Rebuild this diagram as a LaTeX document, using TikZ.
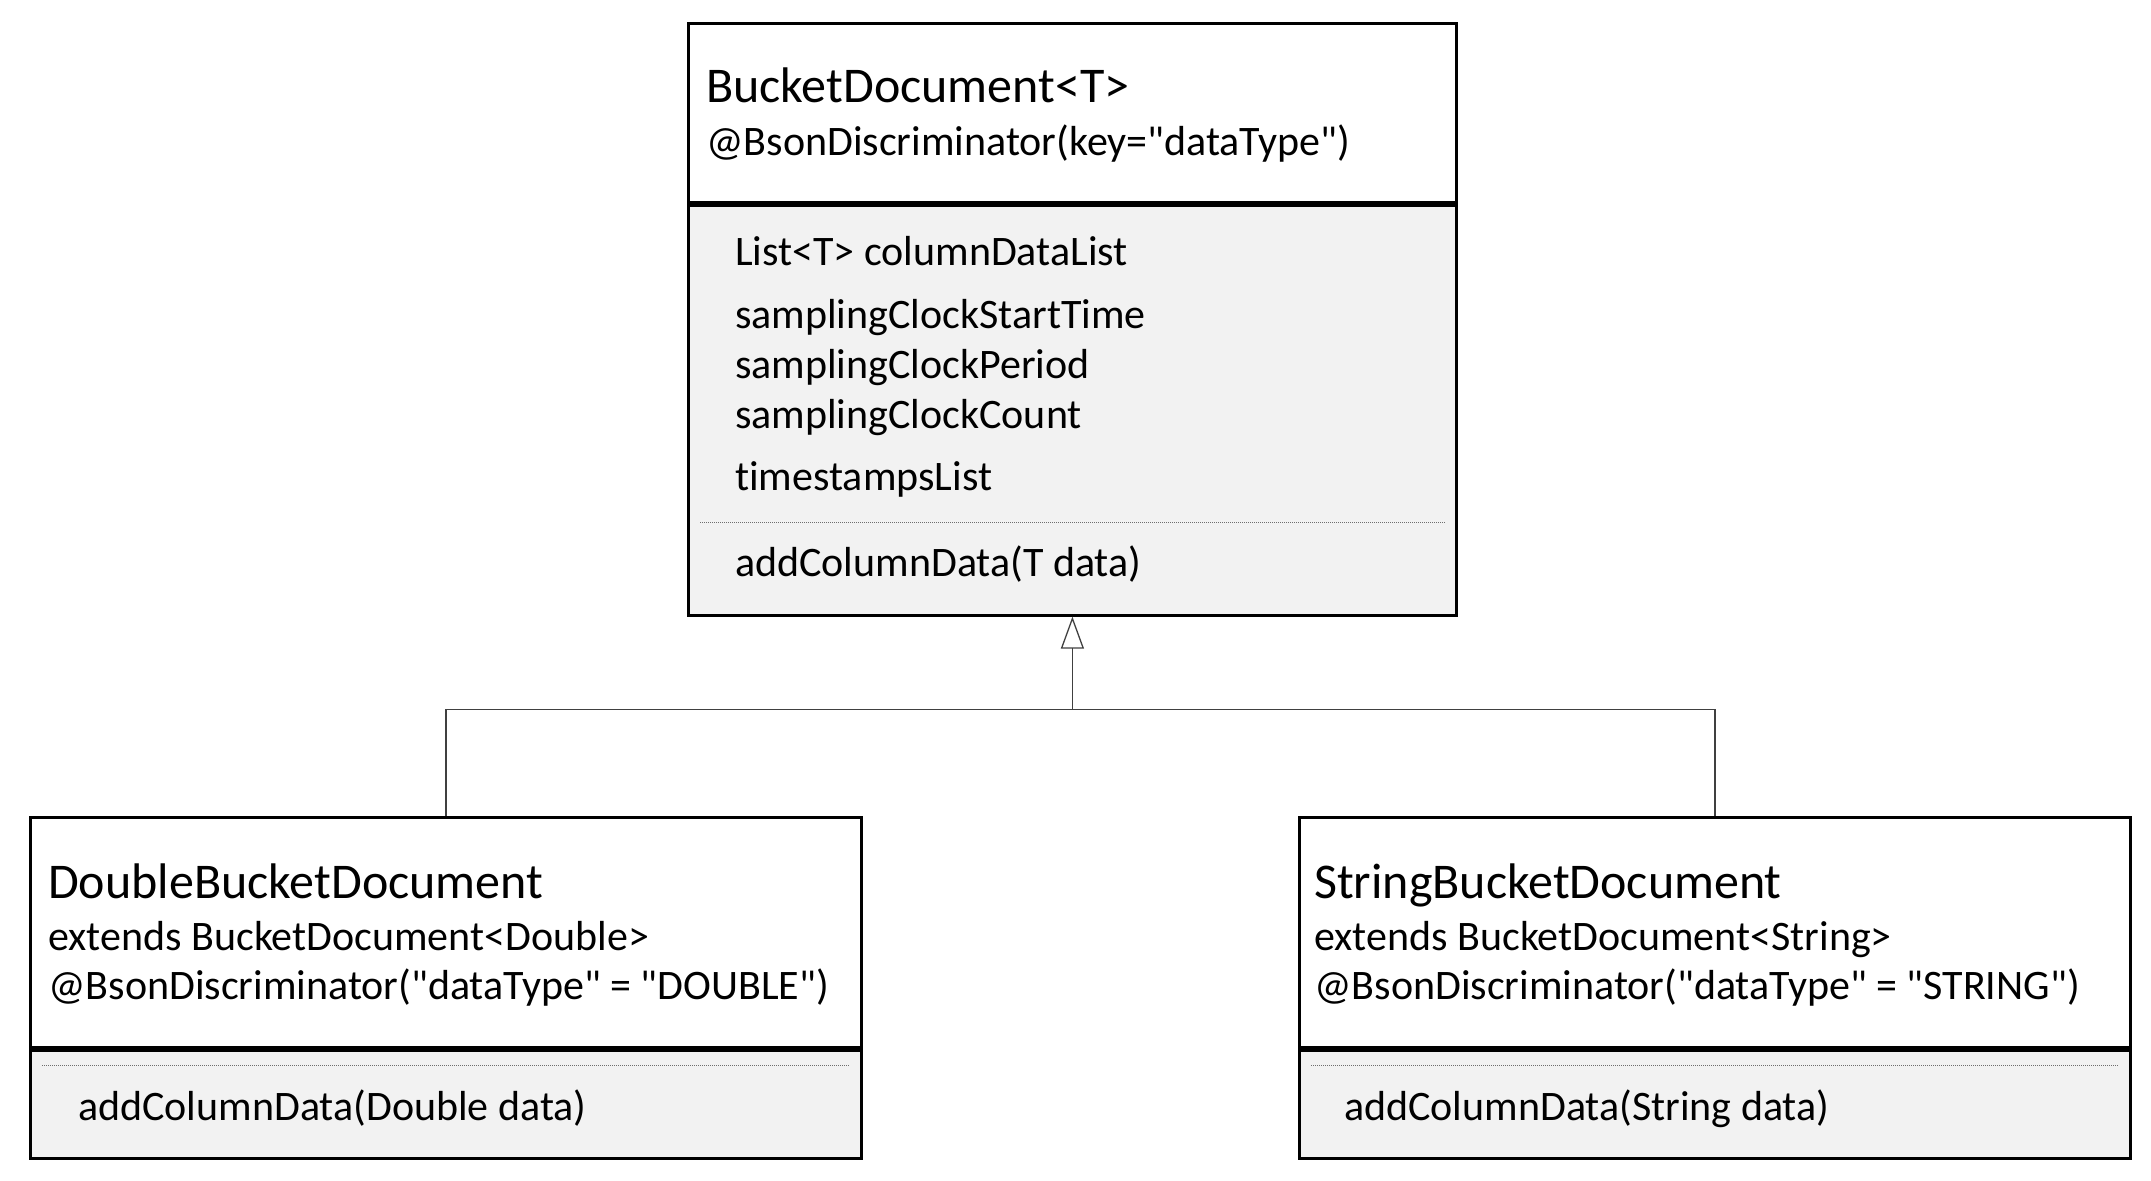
\documentclass[tikz,border=0pt]{standalone}
\usepackage{fontspec}
\newfontfamily\umlfont{Carlito}[Ligatures=NoCommon]
\usetikzlibrary{arrows.meta, positioning, calc}
\definecolor{compgray}{HTML}{F2F2F2}
\definecolor{sepgray}{HTML}{6E6E6E}
\definecolor{linkgray}{HTML}{404040}

\begin{document}
\begin{tikzpicture}[
  x=1pt, y=1pt,
  >={Triangle[open, length=32pt, width=23pt]},
  header/.style={draw, line width=2.8pt, fill=white, inner sep=0pt, anchor=north west},
  compart/.style={draw, line width=2.8pt, fill=compgray, inner sep=0pt, anchor=north},
  classname/.style={anchor=base west, inner sep=0pt, font=\umlfont\fontsize{50}{60}\selectfont},
  member/.style={anchor=base west, inner sep=0pt, font=\umlfont\fontsize{42}{50}\selectfont},
  sepline/.style={sepgray, line width=1pt, dash pattern=on 1pt off 1pt},
  link/.style={linkgray, line width=1.3pt},
]
\useasboundingbox (0,0) rectangle (2151,-1180);

% === Base class ===
\node[header, minimum width=768pt, minimum height=179pt] (baseHead) at (687,-22) {};
\node[compart, minimum width=768pt, minimum height=410pt] (baseBody) at (baseHead.south) {};
\draw[sepline] ($(baseBody.north west)+(13,-319)$) -- ($(baseBody.north east)+(-13,-319)$);

\node[classname] (baseName) at (706,-103) {BucketDocument<T>};
\node[member] (baseAnno) at (706,-155) {@BsonDiscriminator(key="dataType")};
\node[member] (attrList) at (735,-265) {List<T> columnDataList};
\node[member] (attrStart) at (735,-328) {samplingClockStartTime};
\node[member] (attrPeriod) at (735,-378) {samplingClockPeriod};
\node[member] (attrCount) at (735,-428) {samplingClockCount};
\node[member] (attrStamps) at (735,-490) {timestampsList};
\node[member] (baseOp) at (735,-576) {addColumnData(T data)};

% === Double subclass ===
\node[header, minimum width=831pt, minimum height=230pt] (dblHead) at (29,-816) {};
\node[compart, minimum width=831pt, minimum height=108pt] (dblBody) at (dblHead.south) {};
\draw[sepline] ($(dblBody.north west)+(13,-17)$) -- ($(dblBody.north east)+(-13,-17)$);

\node[classname] (dblName) at (48,-898) {DoubleBucketDocument};
\node[member] (dblExt) at (48,-950) {extends BucketDocument<Double>};
\node[member] (dblAnno) at (48,-999) {@BsonDiscriminator("dataType" = "DOUBLE")};
\node[member] (dblOp) at (78,-1120) {addColumnData(Double data)};

% === String subclass ===
\node[header, minimum width=831pt, minimum height=230pt] (strHead) at (1298,-816) {};
\node[compart, minimum width=831pt, minimum height=108pt] (strBody) at (strHead.south) {};
\draw[sepline] ($(strBody.north west)+(13,-17)$) -- ($(strBody.north east)+(-13,-17)$);

\node[classname] (strName) at (1314,-898) {StringBucketDocument};
\node[member] (strExt) at (1314,-950) {extends BucketDocument<String>};
\node[member] (strAnno) at (1314,-999) {@BsonDiscriminator("dataType" = "STRING")};
\node[member] (strOp) at (1344,-1120) {addColumnData(String data)};

% === Generalization ===
\coordinate (joint) at ($(baseBody.south)+(0,-93)$);
\draw[link] (dblHead.north) |- (joint) -| (strHead.north);
\draw[link, ->] (joint) -- (baseBody.south);

\end{tikzpicture}
\end{document}
